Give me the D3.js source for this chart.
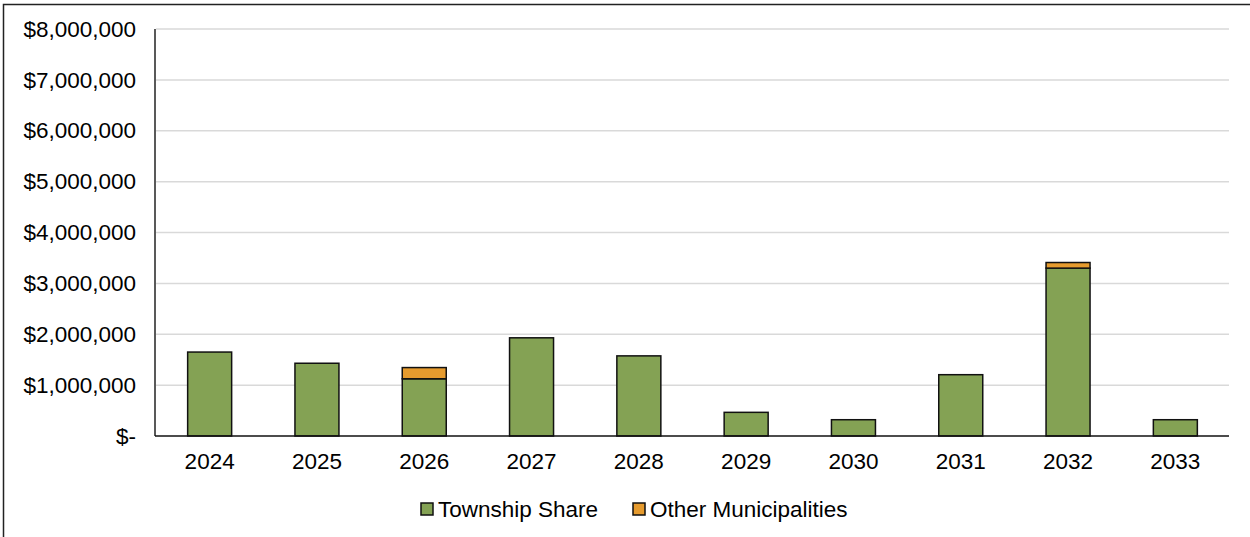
<!DOCTYPE html>
<html>
<head>
<meta charset="utf-8">
<script src="https://cdn.jsdelivr.net/npm/d3@7"></script>
<style>
  html, body { margin: 0; padding: 0; background: #fff; }
  svg { display: block; font-family: "Liberation Sans", Arial, sans-serif; }
</style>
</head>
<body>
<svg id="chart" width="1250" height="537"></svg>
<script>
// Annual capital cost split by funding source
const years = ["2024", "2025", "2026", "2027", "2028", "2029", "2030", "2031", "2032", "2033"];
const townshipShare = [1650000, 1430000, 1125000, 1930000, 1575000, 465000, 320000, 1205000, 3300000, 320000];
const otherMunicipalities = [0, 0, 220000, 0, 0, 0, 0, 0, 110000, 0];
const seriesNames = ["Township Share", "Other Municipalities"];
const seriesColors = ["#84A254", "#E69B2E"];
const yTicks = [0, 1000000, 2000000, 3000000, 4000000, 5000000, 6000000, 7000000, 8000000];

const svg = d3.select("#chart");
const W = 1250, H = 537;
const margin = { left: 156, right: 21, top: 29, bottom: 101 };
const fontSize = 22.5;

// outer frame
svg.append("rect")
  .attr("x", 3.5).attr("y", 4.5)
  .attr("width", W + 10).attr("height", H + 10)
  .attr("fill", "none").attr("stroke", "#222").attr("stroke-width", 1.5);

const x = d3.scaleBand()
  .domain(years)
  .range([margin.left, W - margin.right])
  .paddingInner(0.59).paddingOuter(0.295);

const y = d3.scaleLinear()
  .domain([0, 8000000])
  .range([H - margin.bottom, margin.top]);

const fmt = v => v === 0 ? "$-" : "$" + d3.format(",")(v);

// gridlines
svg.append("g")
  .selectAll("line")
  .data(yTicks.filter(d => d > 0))
  .join("line")
  .attr("x1", margin.left).attr("x2", W - margin.right)
  .attr("y1", d => y(d)).attr("y2", d => y(d))
  .attr("stroke", "#D9D9D9").attr("stroke-width", 1.5);

// y-axis labels
const yAxis = svg.append("g")
  .attr("transform", `translate(${margin.left},0)`)
  .call(d3.axisLeft(y).tickValues(yTicks).tickFormat(fmt).tickSize(0).tickPadding(20));
yAxis.select(".domain").remove();
yAxis.selectAll("text")
  .attr("font-size", fontSize).attr("fill", "#000")
  .attr("font-family", "'Liberation Sans', Arial, sans-serif");

// stacked bars
const stackData = years.map((yr, i) => ({
  year: yr,
  "Township Share": townshipShare[i],
  "Other Municipalities": otherMunicipalities[i]
}));
const stacked = d3.stack().keys(seriesNames)(stackData);

svg.append("g")
  .selectAll("g")
  .data(stacked)
  .join("g")
  .attr("fill", (d, i) => seriesColors[i])
  .selectAll("rect")
  .data(d => d.filter(p => p[1] - p[0] > 0))
  .join("rect")
  .attr("x", d => x(d.data.year))
  .attr("width", x.bandwidth())
  .attr("y", d => y(d[1]))
  .attr("height", d => y(d[0]) - y(d[1]))
  .attr("stroke", "#111").attr("stroke-width", 1.5);

// axis lines
svg.append("line")
  .attr("x1", margin.left - 1).attr("x2", margin.left - 1)
  .attr("y1", margin.top).attr("y2", y(0))
  .attr("stroke", "#222").attr("stroke-width", 1.5);

const xAxis = svg.append("g")
  .attr("transform", `translate(0,${y(0)})`)
  .call(d3.axisBottom(x).tickSize(0).tickPadding(17));
xAxis.select(".domain")
  .attr("d", `M${margin.left - 1},0H${W - margin.right}`)
  .attr("stroke", "#111").attr("stroke-width", 1.5);
xAxis.selectAll("text")
  .attr("font-size", fontSize).attr("fill", "#000")
  .attr("font-family", "'Liberation Sans', Arial, sans-serif");

// legend
const legendItems = [
  { name: seriesNames[0], color: seriesColors[0], x: 421 },
  { name: seriesNames[1], color: seriesColors[1], x: 633 }
];
const legend = svg.append("g").attr("transform", "translate(0,503)");
const li = legend.selectAll("g").data(legendItems).join("g")
  .attr("transform", d => `translate(${d.x},0)`);
li.append("rect")
  .attr("width", 12).attr("height", 12)
  .attr("fill", d => d.color)
  .attr("stroke", "#111").attr("stroke-width", 1.5);
li.append("text")
  .attr("x", 17).attr("y", 6).attr("dy", "0.35em")
  .attr("font-size", fontSize).attr("fill", "#000")
  .text(d => d.name);
</script>
</body>
</html>
